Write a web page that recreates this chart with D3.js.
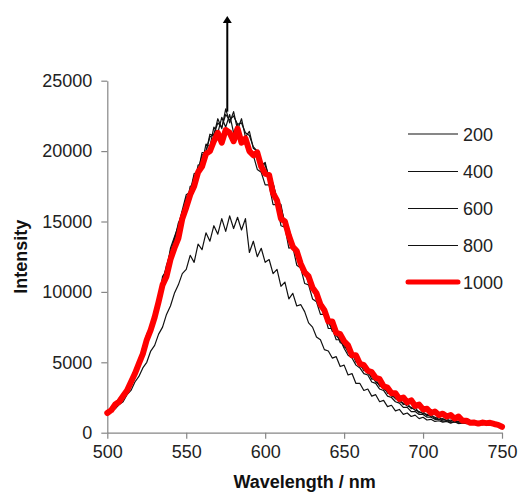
<!DOCTYPE html>
<html>
<head>
<meta charset="utf-8">
<script src="https://cdn.jsdelivr.net/npm/d3@7/dist/d3.min.js"></script>
<style>
  html, body { margin: 0; padding: 0; background: #fff; }
  svg { display: block; font-family: "Liberation Sans", Arial, sans-serif; }
</style>
</head>
<body>
<svg id="chart" width="519" height="495"></svg>
<script>
// ---- data ----
const wavelengths = d3.range(500, 750.01, 2.5); // 2.5 nm sample grid
const seriesNames = ["200", "400", "600", "800", "1000"];
const xTicks = [500, 550, 600, 650, 700, 750];
const yTicks = [0, 5000, 10000, 15000, 20000, 25000];

const s200 = [
  1350,1500,1700,2000,2200,2700,3000,3600,4000,4600,
  5000,5800,6200,7000,7500,8400,9000,9900,10500,11300,
  11600,12600,12100,13400,13000,14200,13600,14700,14100,15200,
  14300,15400,14500,15300,14400,15200,12800,13600,12500,13100,
  12100,12300,11300,11600,10400,10700,9500,9900,9000,9100,
  8600,7800,7500,6800,6600,5900,5800,5300,5400,4700,
  4800,4100,4200,3500,3500,3000,3100,2600,2700,2200,
  2300,1850,1950,1550,1650,1300,1400,1150,1250,1000,
  1100,900,950,800,850,750,800,680,780,650,
  700,660,660,620,650,600,640,580,560,500,
  430];
const s400 = [
  1400,1700,2100,2350,2600,3000,3800,4200,4900,6100,
  6700,7700,8300,9700,10700,11900,12700,13800,14600,15700,
  16100,17500,17600,19000,19100,20500,20300,21700,21300,22400,
  21700,22600,21300,21900,20800,20900,19800,19700,18700,18500,
  17600,17600,16200,16200,14700,14600,13100,13200,11900,11700,
  10600,10500,9500,9300,8400,8400,7400,7400,6600,6600,
  6000,5500,5300,4800,4600,4200,4100,3600,3500,3100,
  3000,2600,2500,2200,2100,1800,1800,1500,1500,1300,
  1300,1100,1100,950,950,820,850,740,760,680,
  700,640,680,600,650,560,620,540,560,480,
  400];
const s600 = [
  1450,1800,2050,2450,2700,3200,3600,4400,5200,5900,
  7000,7500,8700,9300,11100,11500,13100,13900,14700,15800,
  16900,17100,18400,18500,19900,19900,21200,21100,22300,21600,
  23000,22000,22800,21500,22300,21000,21400,20200,20000,19000,
  19200,18000,17700,16400,16200,14700,14500,13300,13100,11800,
  11300,10800,10200,9600,9000,8500,7800,7400,6900,6600,
  6100,5900,5500,5200,4700,4600,4200,4000,3600,3400,
  3100,2900,2600,2500,2200,2100,1900,1800,1600,1500,
  1350,1300,1150,1100,950,1000,850,900,780,800,
  720,760,650,720,600,700,580,640,520,520,
  430];
const s800 = [
  1500,1750,2150,2300,2650,3100,3700,4300,5000,6000,
  6800,7600,8500,9500,10900,11700,12900,13600,14900,15500,
  16700,17100,18200,18600,19700,20000,21000,21200,22000,21700,
  22600,22200,22500,21900,22000,21300,21100,20300,20000,19200,
  19000,18200,17700,16600,16000,14900,14400,13400,13000,11900,
  11500,10600,10400,9400,9200,8300,8000,7200,7100,6400,
  6300,5700,5700,5000,4900,4400,4400,3800,3800,3300,
  3300,2800,2800,2400,2400,2000,2100,1700,1800,1400,
  1500,1200,1300,1000,1100,900,1000,800,900,750,
  850,700,780,680,750,650,720,620,650,500,
  420];
const s1000 = [
  1400,1600,2000,2200,2600,3000,3600,4200,4900,5600,
  6600,7300,8200,9300,10500,11100,12300,13100,13800,15200,
  16000,16900,17500,18500,18900,19800,20000,20700,21300,20600,
  21500,21300,20700,21600,20600,20900,20000,19700,19900,18900,
  18400,18300,17000,16500,15200,15000,14000,13200,12900,12000,
  11400,11100,10300,9900,9100,8700,7900,7900,7100,7000,
  6500,6200,5500,5500,4900,4800,4400,4300,3900,3800,
  3300,3200,2800,2800,2400,2500,2150,2300,1900,2000,
  1650,1700,1400,1500,1250,1350,1150,1250,1000,1150,
  850,850,700,720,650,720,680,700,620,560,
  420];
const seriesValues = [s200, s400, s600, s800, s1000];
const arrowWavelength = 576;
const arrowFrom = 22800, arrowTo = 29600;

// ---- layout ----
const W = 519, H = 495;
const margin = {top: 80.7, right: 17, bottom: 62.3, left: 107.3};
const svg = d3.select("#chart");

const x = d3.scaleLinear().domain([500, 750]).range([margin.left, W - margin.right]);
const y = d3.scaleLinear().domain([0, 25000]).range([H - margin.bottom, margin.top]);

const axisColor = "#868686";
const textColor = "#222";

// axes
const gx = svg.append("g")
  .attr("transform", `translate(0,${H - margin.bottom})`)
  .call(d3.axisBottom(x).tickValues(xTicks).tickFormat(d3.format("d")).tickSize(6).tickSizeOuter(0).tickPadding(7));
const gy = svg.append("g")
  .attr("transform", `translate(${margin.left},0)`)
  .call(d3.axisLeft(y).tickValues(yTicks).tickFormat(d3.format("d")).tickSize(6).tickSizeOuter(0).tickPadding(9));
[gx, gy].forEach(g => {
  g.selectAll("path, line").attr("stroke", axisColor).attr("stroke-width", 1.2);
  g.selectAll("text").attr("fill", textColor).style("font-size", "18px")
    .style("font-family", "'Liberation Sans', Arial, sans-serif");
});

// axis titles
svg.append("text")
  .attr("x", x(625)).attr("y", 488)
  .attr("text-anchor", "middle")
  .style("font-size", "18px").style("font-weight", "bold").attr("fill", "#111")
  .text("Wavelength / nm");
svg.append("text")
  .attr("transform", `translate(27,${y(12500)}) rotate(-90)`)
  .attr("text-anchor", "middle")
  .style("font-size", "18px").style("font-weight", "bold").attr("fill", "#111")
  .text("Intensity");

// lines
const line = d3.line()
  .x((d, i) => x(wavelengths[i]))
  .y(d => y(d));

seriesValues.forEach((vals, k) => {
  const isRed = k === seriesValues.length - 1;
  svg.append("path")
    .datum(vals)
    .attr("fill", "none")
    .attr("stroke", isRed ? "#ff0000" : "#111")
    .attr("stroke-width", isRed ? 6 : 1.2)
    .attr("stroke-linejoin", "round")
    .attr("stroke-linecap", "round")
    .attr("d", line);
});

// arrow
svg.append("line")
  .attr("x1", x(arrowWavelength)).attr("x2", x(arrowWavelength))
  .attr("y1", y(arrowFrom)).attr("y2", y(arrowTo) + 5)
  .attr("stroke", "#000").attr("stroke-width", 2);
const ax = x(arrowWavelength), ay = y(arrowTo);
svg.append("path")
  .attr("d", `M${ax},${ay} L${ax - 4.5},${ay + 7} L${ax + 4.5},${ay + 7} Z`)
  .attr("fill", "#000");

// legend
const legendRows = [134, 171.5, 208.5, 245.5, 282];
seriesNames.forEach((name, k) => {
  const isRed = k === seriesNames.length - 1;
  const ly = legendRows[k];
  svg.append("line")
    .attr("x1", 408).attr("x2", 458).attr("y1", ly).attr("y2", ly)
    .attr("stroke", isRed ? "#ff0000" : "#111")
    .attr("stroke-width", isRed ? 5 : 1.2)
    .attr("stroke-linecap", isRed ? "round" : "butt");
  svg.append("text")
    .attr("x", 463).attr("y", ly + 6.5)
    .style("font-size", "18px").attr("fill", textColor)
    .text(name);
});
</script>
</body>
</html>
